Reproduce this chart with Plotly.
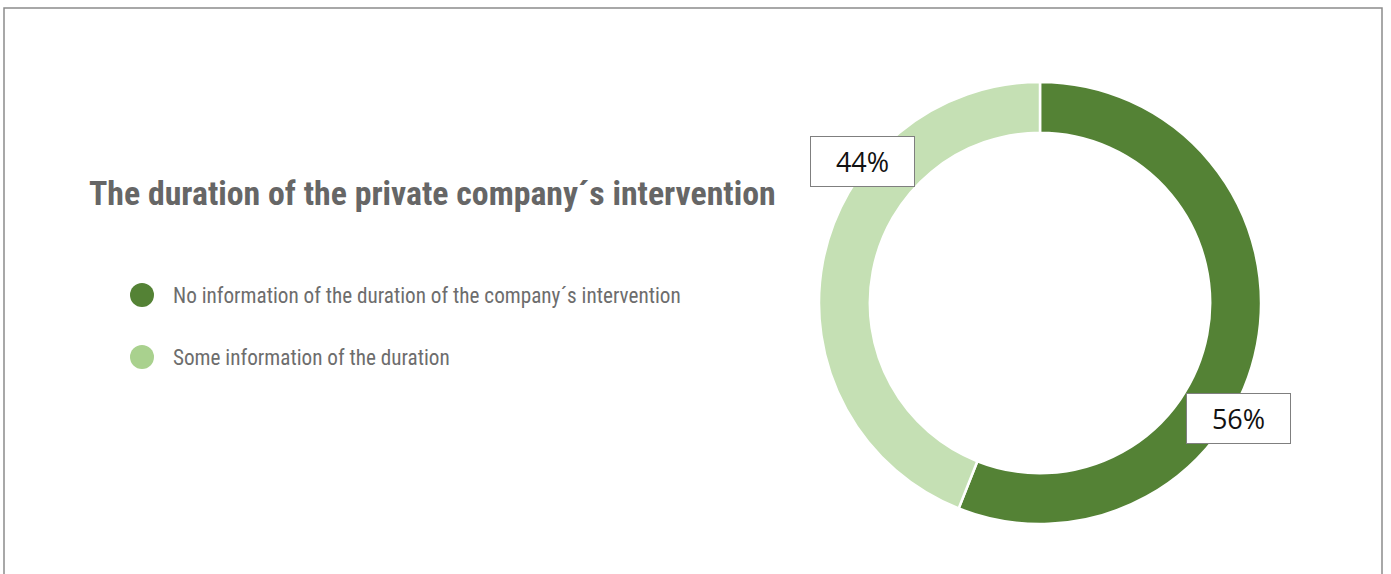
import plotly.graph_objects as go

# ---- data ----
categories = ["No information of the duration of the company´s intervention",
              "Some information of the duration"]
values = [56, 44]
slice_colors = ["#548235", "#C5E0B4"]
legend_colors = ["#548235", "#A9D18E"]
title_text = "The duration of the private company´s intervention"

W, H = 1391, 574

fig = go.Figure()
fig.add_trace(go.Pie(
    labels=categories,
    values=values,
    sort=False,
    direction="clockwise",
    rotation=0,
    hole=0.77,
    marker=dict(colors=slice_colors, line=dict(color="white", width=2.5)),
    textinfo="none",
    hoverinfo="label+percent",
    showlegend=False,
    domain=dict(x=[819 / W, 1261 / W], y=[50 / H, 492 / H]),
))

COND = "Roboto Condensed, Liberation Sans Narrow, DejaVu Sans Condensed, Arial Narrow, sans-serif"

annotations = []
shapes = []

# title
annotations.append(dict(
    text=f"<b>{title_text}</b>", x=87 / W, y=1 - 193 / H, xref="paper", yref="paper",
    xanchor="left", yanchor="middle", showarrow=False,
    font=dict(family=COND, size=33.8, color="#666666"),
))

# custom legend
legend_y = [295, 357]
for i, (cat, col) in enumerate(zip(categories, legend_colors)):
    yc = 1 - legend_y[i] / H
    shapes.append(dict(
        type="circle", xref="paper", yref="paper",
        xsizemode="pixel", ysizemode="pixel",
        xanchor=142 / W, yanchor=yc,
        x0=-12, x1=12, y0=-12, y1=12,
        fillcolor=col, line=dict(width=0),
    ))
    annotations.append(dict(
        text=cat, x=171 / W, y=yc, xref="paper", yref="paper",
        xanchor="left", yanchor="middle", showarrow=False,
        font=dict(family=COND, size=21.2, color="#6d6d6d"),
    ))

# data labels (boxed)
label_pos = [(1238, 418), (862, 161)]
for v, (px, py) in zip(values, label_pos):
    annotations.append(dict(
        text=f"{v}%", x=px / W, y=1 - py / H, xref="paper", yref="paper",
        xanchor="center", yanchor="middle", showarrow=False,
        width=103, height=49, borderpad=0, align="center", valign="middle",
        bgcolor="white", bordercolor="#7f7f7f", borderwidth=1,
        font=dict(family="Open Sans, Noto Sans, sans-serif", size=27, color="#111111"),
    ))

# outer border frame
shapes.append(dict(
    type="rect", xref="paper", yref="paper",
    x0=4 / W, x1=1382 / W, y0=-0.2, y1=1 - 8 / H,
    line=dict(color="#8c8c8c", width=1.5), fillcolor="rgba(0,0,0,0)", layer="below",
))

fig.update_layout(
    width=W, height=H,
    margin=dict(l=0, r=0, t=0, b=0),
    paper_bgcolor="white", plot_bgcolor="white",
    annotations=annotations, shapes=shapes,
)

fig.write_html("out.html", config={"displayModeBar": False},
               post_script="document.body.style.margin='0';")
